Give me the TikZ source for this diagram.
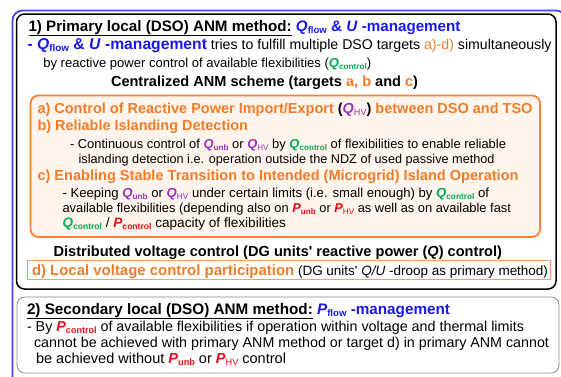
\documentclass[tikz,border=0pt]{standalone}
\usepackage{fontspec}
\setmainfont{Liberation Sans}

\definecolor{txtblue}{RGB}{25,25,235}
\definecolor{txtorange}{RGB}{242,124,42}
\definecolor{txtpurple}{RGB}{150,50,190}
\definecolor{txtgreen}{RGB}{0,170,80}
\definecolor{txtred}{RGB}{232,10,20}
\definecolor{frameblue}{RGB}{70,70,240}
\definecolor{boxfill}{RGB}{255,245,236}
\definecolor{boxline}{RGB}{245,130,55}
\definecolor{thinorange}{RGB}{242,160,110}
\definecolor{framegray}{RGB}{135,135,135}

% font sizes for the plain and the bold lines
\newcommand\rgsize{\fontsize{13}{15}\selectfont}
\newcommand\bdsize{\fontsize{14.4}{17}\selectfont\bfseries}
% lowered, reduced index after a quantity symbol
\newcommand\lowsub[1]{\raisebox{-0.3ex}{\scalebox{0.63}{#1}}}
% quantity: colour, letter, index (bold or plain index)
\newcommand\qty[3]{{\color{#1}\bfseries\itshape #2\lowsub{\upshape #3}}}
\newcommand\qtyl[3]{{\color{#1}\bfseries\itshape #2\lowsub{\upshape\mdseries #3}}}
% one text line set to a given width
\newcommand\fitline[2]{\resizebox{#1pt}{!}{#2}}

\begin{document}
\begin{tikzpicture}[x=1pt,y=-1pt,
  txt/.style={anchor=base west,inner sep=0pt,outer sep=0pt},
  panel/.style={rounded corners=8pt}]
\useasboundingbox (0,0) rectangle (561,376);
\clip (0,0) rectangle (561,376);

% frames
\draw[panel,frameblue,line width=1.8pt,rounded corners=10pt] (12.5,10.5) rectangle (566,395);
\draw[panel,black,line width=1.5pt] (16.5,14) rectangle (556,289);
\draw[panel,boxline,fill=boxfill,line width=1.8pt] (30.5,95.5) rectangle (540,237);
\draw[thinorange,line width=0.8pt] (27,260) rectangle (550,279.5);
\draw[panel,framegray,line width=0.8pt] (17,297) rectangle (559,373);

% panel 1: primary method
\node[txt] (h1) at (28.5,31) {\fitline{432}{\bdsize\underline{1) Primary local (DSO) ANM method:} {\color{txtblue}\qty{txtblue}{Q}{flow} \& \textit{U} -management}}};
\node[txt] (l1a) at (27.5,49) {\fitline{524}{{\bdsize\color{txtblue}- \qty{txtblue}{Q}{flow} \& \textit{U} -management}\rgsize{} tries to fulfill multiple DSO targets {\color{txtorange}a)-d)} simultaneously}};
\node[txt] (l1b) at (43.3,67) {\fitline{328}{\rgsize by reactive power control of available flexibilities (\qty{txtgreen}{Q}{control})}};
\node[txt] (cen) at (111,86) {\fitline{307}{\bdsize Centralized ANM scheme (targets {\color{txtorange}a, b} and {\color{txtorange}c})}};

% centralized targets a)-c)
\node[txt] (ta) at (37.5,113) {\fitline{495}{\bdsize{\color{txtorange}a) Control of Reactive Power Import/Export} (\qtyl{txtpurple}{Q}{HV}) {\color{txtorange}between DSO and TSO}}};
\node[txt] (tb) at (37.5,130) {\fitline{210.5}{\bdsize\color{txtorange}b) Reliable Islanding Detection}};
\node[txt] (tb1) at (70,148) {\fitline{436}{\rgsize - Continuous control of \qty{txtpurple}{Q}{unb} or \qtyl{txtpurple}{Q}{HV} by \qty{txtgreen}{Q}{control} of flexibilities to enable reliable}};
\node[txt] (tb2) at (78.6,163) {\fitline{416}{\rgsize islanding detection i.e. operation outside the NDZ of used passive method}};
\node[txt] (tc) at (37.5,180) {\fitline{481}{\bdsize\color{txtorange}c) Enabling Stable Transition to Intended (Microgrid) Island Operation}};
\node[txt] (tc1) at (62.5,197) {\fitline{426.5}{\rgsize - Keeping \qty{txtpurple}{Q}{unb} or \qtyl{txtpurple}{Q}{HV} under certain limits (i.e. small enough) by \qty{txtgreen}{Q}{control} of}};
\node[txt] (tc2) at (62.5,212) {\fitline{448.5}{\rgsize available flexibilities (depending also on \qty{txtred}{P}{unb} or \qtyl{txtred}{P}{HV} as well as on available fast}};
\node[txt] (tc3) at (62.5,227) {\fitline{223.5}{\rgsize \qty{txtgreen}{Q}{control} / \qty{txtred}{P}{control} capacity of flexibilities}};

% distributed control, target d)
\node[txt] (dis) at (53.6,256) {\fitline{448.4}{\bdsize Distributed voltage control (DG units\textquotesingle\ reactive power (\textit{Q}) control)}};
\node[txt] (td) at (32,275) {\fitline{516}{{\bdsize\color{txtorange}d) Local voltage control participation}\rgsize{} (DG units\textquotesingle\ \textit{Q/U} -droop as primary method)}};

% panel 2: secondary method
\node[txt] (h2) at (27,314) {\fitline{423}{\bdsize\underline{2) Secondary local (DSO) ANM method:} {\color{txtblue}\qty{txtblue}{P}{flow} -management}}};
\node[txt] (s1) at (27,331) {\fitline{497}{\rgsize - By \qty{txtred}{P}{control} of available flexibilities if operation within voltage and thermal limits}};
\node[txt] (s2) at (34,347) {\fitline{515}{\rgsize cannot be achieved with primary ANM method or target d) in primary ANM cannot}};
\node[txt] (s3) at (36,363) {\fitline{250}{\rgsize be achieved without \qty{txtred}{P}{unb} or \qtyl{txtred}{P}{HV} control}};
\end{tikzpicture}
\end{document}
